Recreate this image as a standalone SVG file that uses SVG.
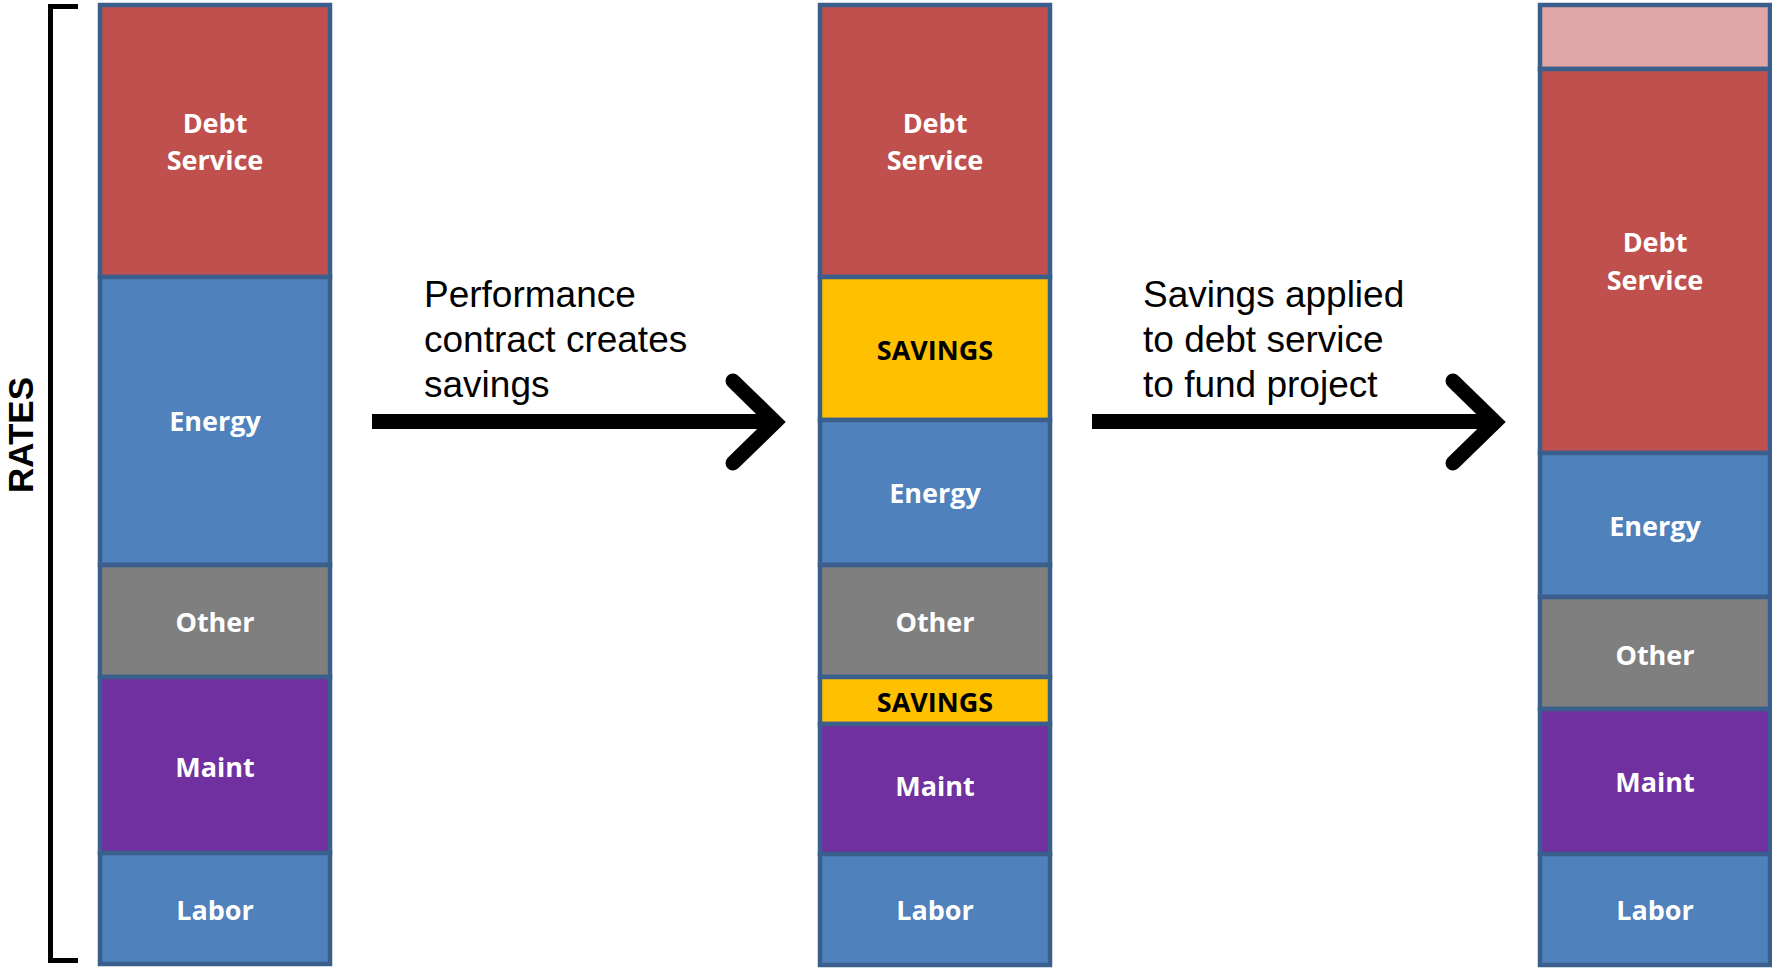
<svg xmlns="http://www.w3.org/2000/svg" width="1772" height="968" viewBox="0 0 1772 968">
<style>
.seg{stroke:#3A5F8C;stroke-width:4.5}
.red{fill:#C0504D}.blue{fill:#4F81BD}.gray{fill:#7F7F7F}.purple{fill:#7030A0}.yellow{fill:#FFC000}.pink{fill:#E0A7A6}
.lbl{font-family:"Open Sans",Lato,sans-serif;font-weight:bold;font-size:27px;fill:#FFFFFF;text-anchor:middle}
.blk{fill:#000000}
.cap{font-family:"Liberation Sans",Arial,sans-serif;font-size:37px;fill:#000000}
.arr{stroke:#000;stroke-width:15;fill:none}
</style>
<rect width="1772" height="968" fill="#FFFFFF"/>
<g id="bracket">
<path d="M78,6.5 H50.5 V960.5 H78" fill="none" stroke="#000" stroke-width="5"/>
<text x="0" y="0" transform="translate(33,435) rotate(-90)" font-family="Liberation Sans,Arial,sans-serif" font-weight="bold" font-size="35" text-anchor="middle">RATES</text>
</g>
<g id="col1">
<g id="c1-debt"><rect class="seg red" x="100" y="5" width="230" height="272"/><text class="lbl" x="215" y="133">Debt</text><text class="lbl" x="215" y="170">Service</text></g>
<g id="c1-energy"><rect class="seg blue" x="100" y="277" width="230" height="288"/><text class="lbl" x="215" y="431">Energy</text></g>
<g id="c1-other"><rect class="seg gray" x="100" y="565" width="230" height="112"/><text class="lbl" x="215" y="632">Other</text></g>
<g id="c1-maint"><rect class="seg purple" x="100" y="677" width="230" height="176"/><text class="lbl" x="215" y="777">Maint</text></g>
<g id="c1-labor"><rect class="seg blue" x="100" y="853" width="230" height="111"/><text class="lbl" x="215" y="920">Labor</text></g>
</g>
<g id="col2">
<g id="c2-debt"><rect class="seg red" x="820" y="5" width="230" height="272"/><text class="lbl" x="935" y="133">Debt</text><text class="lbl" x="935" y="170">Service</text></g>
<g id="c2-savings1"><rect class="seg yellow" x="820" y="277" width="230" height="143"/><text class="lbl blk" x="935" y="360">SAVINGS</text></g>
<g id="c2-energy"><rect class="seg blue" x="820" y="420" width="230" height="145"/><text class="lbl" x="935" y="503">Energy</text></g>
<g id="c2-other"><rect class="seg gray" x="820" y="565" width="230" height="112"/><text class="lbl" x="935" y="632">Other</text></g>
<g id="c2-savings2"><rect class="seg yellow" x="820" y="677" width="230" height="47"/><text class="lbl blk" x="935" y="712">SAVINGS</text></g>
<g id="c2-maint"><rect class="seg purple" x="820" y="724" width="230" height="130"/><text class="lbl" x="935" y="796">Maint</text></g>
<g id="c2-labor"><rect class="seg blue" x="820" y="854" width="230" height="111"/><text class="lbl" x="935" y="920">Labor</text></g>
</g>
<g id="col3">
<g id="c3-extra"><rect class="seg pink" x="1540" y="5" width="230" height="64"/></g>
<g id="c3-debt"><rect class="seg red" x="1540" y="69" width="230" height="384"/><text class="lbl" x="1655" y="252">Debt</text><text class="lbl" x="1655" y="290">Service</text></g>
<g id="c3-energy"><rect class="seg blue" x="1540" y="453" width="230" height="144"/><text class="lbl" x="1655" y="536">Energy</text></g>
<g id="c3-other"><rect class="seg gray" x="1540" y="597" width="230" height="112"/><text class="lbl" x="1655" y="665">Other</text></g>
<g id="c3-maint"><rect class="seg purple" x="1540" y="709" width="230" height="145"/><text class="lbl" x="1655" y="792">Maint</text></g>
<g id="c3-labor"><rect class="seg blue" x="1540" y="854" width="230" height="111"/><text class="lbl" x="1655" y="920">Labor</text></g>
</g>
<g id="connectors">
<g id="arrow1">
<line class="arr" x1="372" y1="421.5" x2="778" y2="421.5"/>
<polyline class="arr" points="733,381 775,422 733,463" stroke-linecap="round" stroke-linejoin="miter"/>
<text class="cap" x="424" y="307">Performance</text>
<text class="cap" x="424" y="352">contract creates</text>
<text class="cap" x="424" y="397">savings</text>
</g>
<g id="arrow2">
<line class="arr" x1="1092" y1="421.5" x2="1498" y2="421.5"/>
<polyline class="arr" points="1453,381 1495,422 1453,463" stroke-linecap="round" stroke-linejoin="miter"/>
<text class="cap" x="1143" y="307">Savings applied</text>
<text class="cap" x="1143" y="352">to debt service</text>
<text class="cap" x="1143" y="397">to fund project</text>
</g>
</g>
</svg>
